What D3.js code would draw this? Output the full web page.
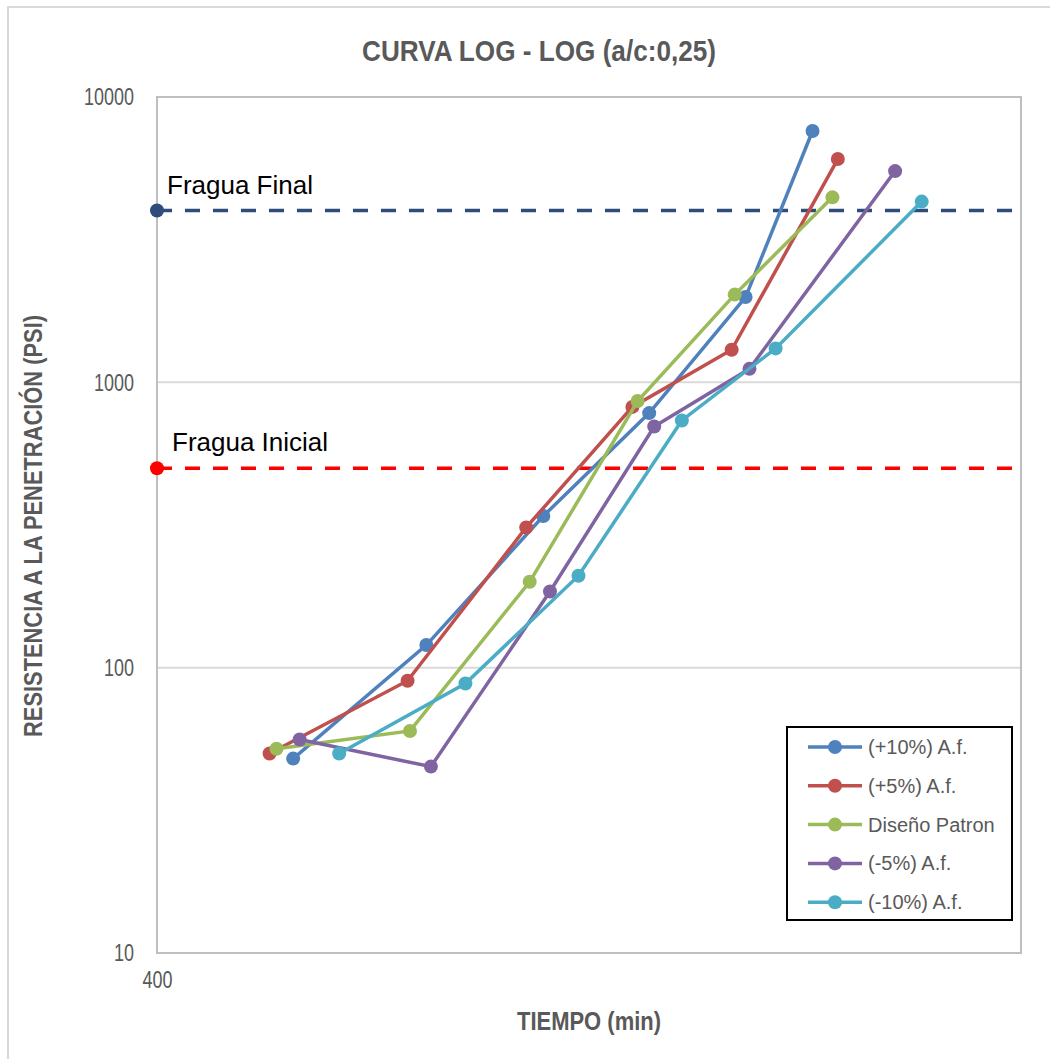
<!DOCTYPE html>
<html>
  <head>
    <meta charset="UTF-8">
    <title>Curva log - log</title>
    <style>
    body { margin: 0; background: #fff; }
    svg { display: block; font-family: "Liberation Sans", Arial, sans-serif; }
    </style>
  </head>
  <body>
    <svg id="chart" width="1059" height="1059"></svg>
  </body>
  <script src="https://cdn.jsdelivr.net/npm/d3@7"></script>
  <script>
  // tiempo (min) y resistencia (psi) para cada mezcla
  var seriesNames = ["(+10%) A.f.", "(+5%) A.f.", "Diseño Patron", "(-5%) A.f.", "(-10%) A.f."];
  var seriesColors = ["#4f81bd", "#c0504d", "#9bbb59", "#8064a2", "#4bacc6"];

  var tiempoMas10 = [575, 820, 1120, 1485, 1920, 2295];
  var resistMas10 = [48, 120, 340, 780, 1990, 7600];
  var tiempoMas5 = [540, 780, 1070, 1420, 1850, 2455];
  var resistMas5 = [50, 90, 310, 820, 1300, 6060];
  var tiempoPatron = [550, 785, 1080, 1440, 1865, 2420];
  var resistPatron = [52, 60, 200, 860, 2030, 4450];
  var tiempoMenos5 = [585, 830, 1140, 1505, 1940, 2860];
  var resistMenos5 = [56, 45, 185, 700, 1115, 5500];
  var tiempoMenos10 = [650, 910, 1230, 1620, 2080, 3070];
  var resistMenos10 = [50, 88, 210, 735, 1315, 4300];

  var fraguaNames = ["Fragua Final", "Fragua Inicial"];
  var fraguaValues = [4000, 500];
  var fraguaColors = ["#2e4d7b", "#ff0000"];

  var yTicks = [10, 100, 1000, 10000];
  var xTicks = [400];

  var tiempos = [tiempoMas10, tiempoMas5, tiempoPatron, tiempoMenos5, tiempoMenos10];
  var resists = [resistMas10, resistMas5, resistPatron, resistMenos5, resistMenos10];

  var margin = {left: 157, top: 97, right: 1021, bottom: 953};
  var grey = "#595959";

  var x = d3.scaleLog().domain([400, 4000]).range([margin.left, margin.right]);
  var y = d3.scaleLog().domain([10, 10000]).range([margin.bottom, margin.top]);

  var svg = d3.select("svg#chart");

  // marco exterior del grafico
  svg.append("path")
    .attr("d", "M8,1059V7H1050")
    .attr("fill", "none")
    .attr("stroke", "#d9d9d9")
    .attr("stroke-width", 2);

  // titulo
  svg.append("text")
    .attr("x", 539).attr("y", 61)
    .attr("text-anchor", "middle")
    .attr("font-size", 30).attr("font-weight", "bold")
    .attr("fill", grey)
    .attr("textLength", 354).attr("lengthAdjust", "spacingAndGlyphs")
    .text("CURVA LOG - LOG (a/c:0,25)");

  // lineas de division
  svg.append("g").selectAll("line")
    .data(yTicks.slice(1, -1))
    .enter().append("line")
    .attr("x1", margin.left).attr("x2", margin.right)
    .attr("y1", function(d) { return y(d); })
    .attr("y2", function(d) { return y(d); })
    .attr("stroke", "#d9d9d9").attr("stroke-width", 2);

  svg.append("rect")
    .attr("x", margin.left).attr("y", margin.top)
    .attr("width", margin.right - margin.left)
    .attr("height", margin.bottom - margin.top)
    .attr("fill", "none")
    .attr("stroke", "#bfbfbf").attr("stroke-width", 2);

  // ejes
  var yAxis = svg.append("g")
    .attr("transform", "translate(" + margin.left + ",0)")
    .call(d3.axisLeft(y).tickValues(yTicks).tickFormat(d3.format("d")).tickSize(0).tickPadding(23));
  yAxis.select(".domain").remove();
  yAxis.selectAll("text")
    .attr("font-size", 24).attr("font-family", "Liberation Sans, Arial, sans-serif")
    .attr("fill", grey)
    .attr("textLength", function(d) { return String(d).length * 10; })
    .attr("lengthAdjust", "spacingAndGlyphs");

  var xAxis = svg.append("g")
    .attr("transform", "translate(0," + margin.bottom + ")")
    .call(d3.axisBottom(x).tickValues(xTicks).tickFormat(d3.format("d")).tickSize(0).tickPadding(18));
  xAxis.select(".domain").remove();
  xAxis.selectAll("text")
    .attr("font-size", 24).attr("font-family", "Liberation Sans, Arial, sans-serif")
    .attr("fill", grey)
    .attr("textLength", function(d) { return String(d).length * 10; })
    .attr("lengthAdjust", "spacingAndGlyphs");

  // titulos de ejes
  svg.append("text")
    .attr("x", (margin.left + margin.right) / 2).attr("y", 1030)
    .attr("text-anchor", "middle")
    .attr("font-size", 26).attr("font-weight", "bold")
    .attr("fill", grey)
    .attr("textLength", 144).attr("lengthAdjust", "spacingAndGlyphs")
    .text("TIEMPO (min)");

  svg.append("text")
    .attr("transform", "translate(42,526)rotate(-90)")
    .attr("text-anchor", "middle")
    .attr("font-size", 26).attr("font-weight", "bold")
    .attr("fill", grey)
    .attr("textLength", 422).attr("lengthAdjust", "spacingAndGlyphs")
    .text("RESISTENCIA A LA PENETRACIÓN (PSI)");

  // lineas de fragua
  var fragua = svg.append("g").selectAll("g")
    .data(fraguaValues)
    .enter().append("g");

  fragua.append("line")
    .attr("x1", margin.left).attr("x2", margin.right)
    .attr("y1", function(d) { return y(d); })
    .attr("y2", function(d) { return y(d); })
    .attr("stroke", function(d, i) { return fraguaColors[i]; })
    .attr("stroke-width", 3.5)
    .attr("stroke-dasharray", "15,13");

  fragua.append("circle")
    .attr("cx", x(400))
    .attr("cy", function(d) { return y(d); })
    .attr("r", 7)
    .attr("fill", function(d, i) { return fraguaColors[i]; });

  fragua.append("text")
    .attr("x", function(d, i) { return i == 0 ? 167 : 172; })
    .attr("y", function(d) { return y(d) - 17; })
    .attr("font-size", 26)
    .attr("fill", "#000")
    .text(function(d, i) { return fraguaNames[i]; });

  // series
  var line = d3.line()
    .x(function(d) { return x(d[0]); })
    .y(function(d) { return y(d[1]); });

  var series = svg.append("g").selectAll("g")
    .data(seriesNames)
    .enter().append("g")
    .attr("fill", function(d, i) { return seriesColors[i]; })
    .attr("stroke", function(d, i) { return seriesColors[i]; });

  series.append("path")
    .attr("fill", "none")
    .attr("stroke-width", 3.5)
    .attr("d", function(d, i) { return line(d3.zip(tiempos[i], resists[i])); });

  series.selectAll("circle")
    .data(function(d, i) { return d3.zip(tiempos[i], resists[i]); })
    .enter().append("circle")
    .attr("stroke", "none")
    .attr("cx", function(d) { return x(d[0]); })
    .attr("cy", function(d) { return y(d[1]); })
    .attr("r", 7);

  // leyenda
  var legend = svg.append("g");
  legend.append("rect")
    .attr("x", 787).attr("y", 727)
    .attr("width", 225).attr("height", 193)
    .attr("fill", "#fff")
    .attr("stroke", "#000").attr("stroke-width", 2);

  var item = legend.selectAll("g.item")
    .data(seriesNames)
    .enter().append("g")
    .attr("class", "item")
    .attr("transform", function(d, i) { return "translate(0," + (747 + i * 38.8) + ")"; });

  item.append("line")
    .attr("x1", 808).attr("x2", 862)
    .attr("stroke", function(d, i) { return seriesColors[i]; })
    .attr("stroke-width", 3.5);
  item.append("circle")
    .attr("cx", 835).attr("r", 7)
    .attr("fill", function(d, i) { return seriesColors[i]; });
  item.append("text")
    .attr("x", 868).attr("dy", "0.35em")
    .attr("font-size", 20)
    .attr("fill", grey)
    .text(function(d) { return d; });
  </script>
</html>
